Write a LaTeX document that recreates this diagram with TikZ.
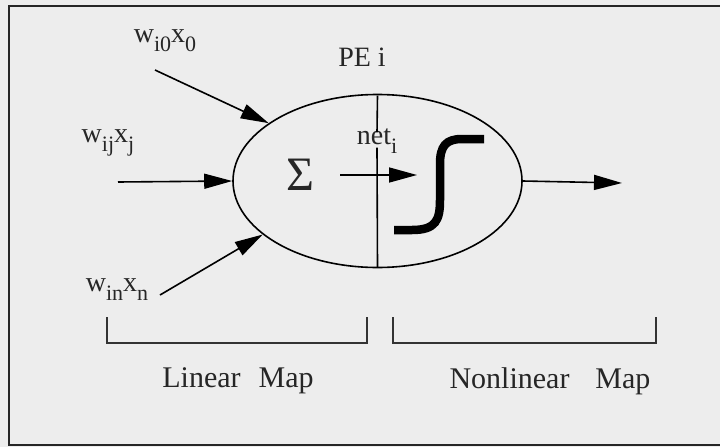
\documentclass[tikz,border=0pt]{standalone}
\usepackage{fontspec}
\setmainfont{Liberation Serif}
\usetikzlibrary{shapes.geometric,arrows.meta}
\newcommand{\lbl}{\fontsize{28}{30}\selectfont}
\newcommand{\mysub}[1]{\raisebox{-9pt}{\fontsize{22}{24}\selectfont #1}}
\tikzset{
  txt/.style={inner sep=0pt, text=black!85},
  conn/.style={line width=1.6pt, -{Triangle[length=28pt,width=15pt]}},
  thin/.style={line width=1.6pt},
  brk/.style={line width=1.8pt, black!80},
}
\begin{document}
\begin{tikzpicture}[x=1pt,y=-1pt]
\useasboundingbox (0,0) rectangle (720,447);
\fill[black!7] (0,0) rectangle (720,447);
\draw[line width=2pt, black!85] (9,6) rectangle (724,445);
% processing element
\node[ellipse, draw, line width=1.6pt, minimum width=289pt, minimum height=173pt, inner sep=0pt] (PE) at (377.5,181) {};
% labels
\node[txt] (l0) at (165,41) {\lbl w\mysub{i0}x\mysub{0}};
\node[txt] (lj) at (108,143) {\lbl w\mysub{ij}x\mysub{j}};
\node[txt] (ln) at (117,290) {\lbl w\mysub{in}x\mysub{n}};
\node[txt] (pe) at (362,57) {\lbl PE i};
\node[txt] (net) at (377,141) {\lbl net\mysub{i}};
\node[txt] (sig) at (300,175) {\fontsize{48}{50}\selectfont Σ};
% input arrows
\coordinate (s0) at (155,70);
\coordinate (sj) at (118,182);
\coordinate (sn) at (160,295);
\draw[conn] (s0) -- (PE.152);
\draw[conn] (sj) -- (PE.180);
\draw[conn] (sn) -- (PE.205);
% vertical divider
\draw[thin] ([yshift=-2pt]PE.north) -- ([yshift=-4pt]net.north);
\draw[thin] ([yshift=6pt]net.south) -- ([yshift=1pt]PE.south);
% inner arrow
\coordinate (a1) at (340,175);
\coordinate (a2) at (417,175);
\draw[conn] (a1) -- (a2);
% sigmoid
\draw[line width=8.5pt, line cap=butt] (394,230) -- (412,230)
  .. controls (436,230) and (440,220) .. (440,200)
  -- (440,164)
  .. controls (440,146) and (446,139) .. (462,139) -- (484,139);
% output arrow
\coordinate (out) at (622,183);
\draw[conn] (PE.east) -- (out);
% brackets
\draw[brk] (107,317) -- (107,343) -- (367,343) -- (367,317);
\draw[brk] (393,317) -- (393,343) -- (656,343) -- (656,317);
\node[txt] (lm) at (238,381) {\fontsize{30}{32}\selectfont Linear\hspace{18pt}Map};
\node[txt] (nm) at (550,381) {\fontsize{30}{32}\selectfont Nonlinear\hspace{26pt}Map};
\end{tikzpicture}
\end{document}
